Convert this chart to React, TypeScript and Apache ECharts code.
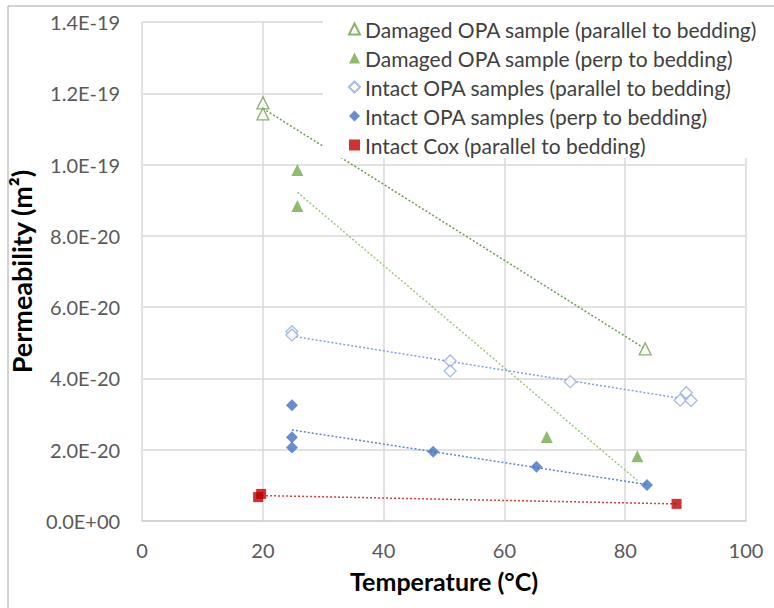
import React, { useEffect, useRef } from "react";
import * as echarts from "echarts";

// Temperature (°C) and permeability (in units of 1e-20 m²)
const dmgParX = [20, 20, 83.3];
const dmgParY = [11.73, 11.42, 4.83];
const dmgPerpX = [25.7, 25.7, 67.0, 82.0];
const dmgPerpY = [9.85, 8.84, 2.36, 1.82];
const intParX = [24.8, 24.8, 51.0, 51.0, 70.9, 89.1, 90.1, 90.9];
const intParY = [5.31, 5.22, 4.49, 4.21, 3.91, 3.39, 3.6, 3.38];
const intPerpX = [24.8, 24.8, 24.8, 48.2, 65.3, 83.6];
const intPerpY = [3.25, 2.35, 2.06, 1.94, 1.52, 1.01];
const coxX = [19.2, 19.7, 88.5];
const coxY = [0.67, 0.76, 0.48];

const seriesNames = [
  "Damaged OPA sample (parallel to bedding)",
  "Damaged OPA sample (perp to bedding)",
  "Intact OPA samples (parallel to bedding)",
  "Intact OPA samples (perp to bedding)",
  "Intact Cox (parallel to bedding)",
];

const xTitle = "Temperature (°C)";
const yTitle = "Permeability (m²)";

const FONT = "Lato, 'Open Sans', sans-serif";

function pairs(xs: number[], ys: number[]) {
  return xs.map((x, i) => [x, ys[i]]);
}

// Least-squares linear trendline spanning the data's x range
function trend(xs: number[], ys: number[]) {
  const n = xs.length;
  const mx = xs.reduce((a, b) => a + b, 0) / n;
  const my = ys.reduce((a, b) => a + b, 0) / n;
  let sxx = 0,
    sxy = 0;
  for (let i = 0; i < n; i++) {
    sxx += (xs[i] - mx) * (xs[i] - mx);
    sxy += (xs[i] - mx) * (ys[i] - my);
  }
  const b = sxy / sxx;
  const a = my - b * mx;
  const x0 = Math.min(...xs);
  const x1 = Math.max(...xs);
  return [
    [x0, a + b * x0],
    [x1, a + b * x1],
  ];
}

function sci(v: number) {
  const s = (v * 1e-20).toExponential(1);
  const [m, e] = s.split("e");
  const sign = e[0] === "-" ? "-" : "+";
  const d = e.replace(/[+-]/, "").padStart(2, "0");
  return `${m}E${sign}${d}`;
}

export default function App() {
  const ref = useRef<HTMLDivElement>(null);
  useEffect(() => {
    if (!ref.current) return;
    const chart = echarts.init(ref.current, null, { renderer: "svg" });
    const trendLine = (data: number[][], color: string) => ({
      type: "line",
      data,
      symbol: "none",
      silent: true,
      z: 3,
      lineStyle: { color, width: 1.5, type: [2, 2] },
    });
    chart.setOption({
      animation: false,
      backgroundColor: "#ffffff",
      textStyle: { fontFamily: FONT },
      graphic: [
        {
          type: "rect",
          shape: { x: 8, y: 6, width: 900, height: 800 },
          style: { fill: "none", stroke: "#a6a6a6", lineWidth: 1 },
          silent: true,
          z: -1,
        },
      ],
      grid: { left: 142, right: 28, top: 22, bottom: 87, containLabel: false },
      xAxis: {
        type: "value",
        min: 0,
        max: 100,
        interval: 20,
        name: xTitle,
        nameLocation: "middle",
        nameGap: 47,
        nameTextStyle: { fontFamily: FONT, fontSize: 25, fontWeight: "bold", color: "#000" },
        axisLine: { show: true, lineStyle: { color: "#d0d0d0", width: 1.5 } },
        axisTick: { show: false },
        axisLabel: { margin: 19, fontSize: 20, color: "#595959", fontFamily: FONT },
        splitLine: { show: true, lineStyle: { color: "#d9d9d9", width: 1.5 } },
      },
      yAxis: {
        type: "value",
        min: 0,
        max: 14,
        interval: 2,
        name: yTitle,
        nameLocation: "middle",
        nameGap: 100,
        nameTextStyle: { fontFamily: FONT, fontSize: 27, fontWeight: "bold", color: "#000" },
        axisLine: { show: false },
        axisTick: { show: false },
        axisLabel: { margin: 22, fontSize: 20, color: "#595959", fontFamily: FONT, formatter: sci },
        splitLine: { show: true, lineStyle: { color: "#d9d9d9", width: 1.5 } },
      },
      legend: {
        data: seriesNames,
        orient: "vertical",
        left: 323,
        top: 10,
        padding: [7, 30, 1, 25],
        backgroundColor: "#ffffff",
        itemWidth: 11,
        itemHeight: 11,
        itemGap: 5,
        z: 10,
        textStyle: { fontFamily: FONT, fontSize: 21, color: "#404040", lineHeight: 24 },
      },
      series: [
        {
          name: seriesNames[0],
          type: "scatter",
          symbol: "triangle",
          symbolSize: 12,
          z: 4,
          itemStyle: { color: "#ffffff", borderColor: "#6a9f46", borderWidth: 1.3 },
          data: pairs(dmgParX, dmgParY),
        },
        {
          name: seriesNames[1],
          type: "scatter",
          symbol: "triangle",
          symbolSize: 12,
          z: 4,
          itemStyle: { color: "#70ad47" },
          data: pairs(dmgPerpX, dmgPerpY),
        },
        {
          name: seriesNames[2],
          type: "scatter",
          symbol: "diamond",
          symbolSize: 12,
          z: 4,
          itemStyle: { color: "#ffffff", borderColor: "#8eaadb", borderWidth: 1.3 },
          data: pairs(intParX, intParY),
        },
        {
          name: seriesNames[3],
          type: "scatter",
          symbol: "diamond",
          symbolSize: 12,
          z: 4,
          itemStyle: { color: "#4472c4" },
          data: pairs(intPerpX, intPerpY),
        },
        {
          name: seriesNames[4],
          type: "scatter",
          symbol: "rect",
          symbolSize: 10,
          z: 4,
          itemStyle: { color: "#c00000" },
          data: pairs(coxX, coxY),
        },
        trendLine(trend(dmgParX, dmgParY), "#6f9b50"),
        trendLine(trend(dmgPerpX, dmgPerpY), "#9cc77c"),
        trendLine(trend(intParX, intParY), "#7ea2e2"),
        trendLine(trend(intPerpX, intPerpY), "#5b84cf"),
        trendLine(trend(coxX, coxY), "#e03a3a"),
      ],
    });
    return () => chart.dispose();
  }, []);
  return (
    <div
      ref={ref}
      style={{ position: "fixed", left: 0, top: 0, width: 774, height: 608 }}
    />
  );
}
